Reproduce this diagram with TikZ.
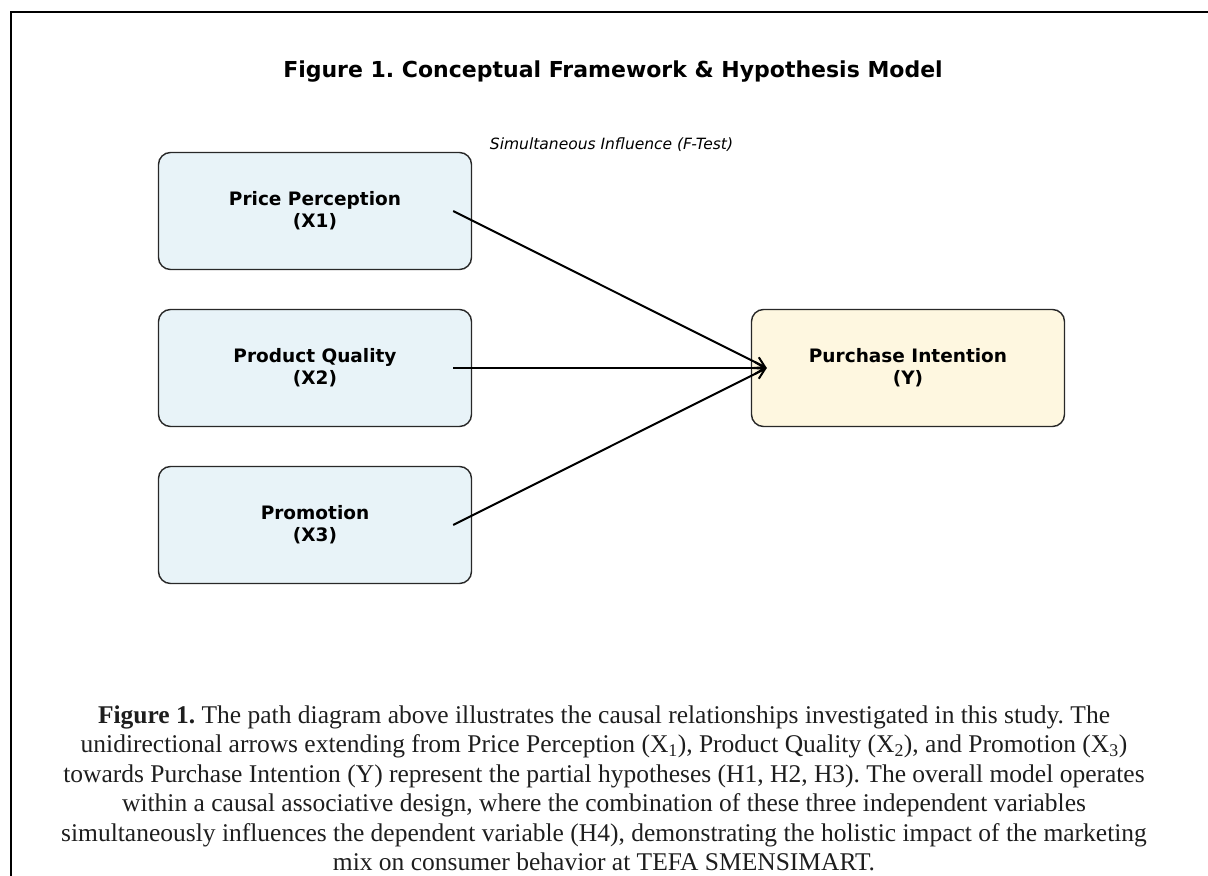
\documentclass[tikz,border=0pt]{standalone}
\usepackage{fontspec}
\setmainfont{Liberation Serif}
\newfontfamily\dejavu{DejaVu Sans}
\usetikzlibrary{arrows.meta}
\definecolor{indblue}{RGB}{232,243,248}
\definecolor{depyellow}{RGB}{254,247,224}
\definecolor{edgegray}{RGB}{40,40,40}
\definecolor{captext}{RGB}{30,30,30}
\tikzset{
  varbox/.style={draw=edgegray, line width=1.4bp, rounded corners=12bp,
    minimum width=313bp, minimum height=117bp, align=center, inner sep=0pt,
    font=\dejavu\bfseries\fontsize{18.5bp}{22bp}\selectfont},
  indep/.style={varbox, fill=indblue},
  dep/.style={varbox, fill=depyellow},
  path arrow/.style={draw=black, line width=2bp, -{Straight Barb[length=10bp,width=12bp,line width=2bp]}},
  capline/.style={anchor=base, inner sep=0pt, text=captext,
    font=\fontsize{25.5bp}{29.4bp}\selectfont}
}
\frenchspacing
\begin{document}
\begin{tikzpicture}[x=1bp,y=-1bp]
\useasboundingbox (0,0) rectangle (1208,876);
% frame
\draw[line width=2.5bp] (11,876) -- (11,12) -- (1208,12);
% title
\node[anchor=base, inner sep=0pt, font=\dejavu\bfseries\fontsize{22bp}{26bp}\selectfont] (title) at (613,77) {Figure 1. Conceptual Framework \& Hypothesis Model};
\node[anchor=base, inner sep=0pt, font=\dejavu\itshape\fontsize{15.5bp}{18bp}\selectfont] (sim) at (611.5,149) {Simultaneous Influence (F-Test)};
% boxes
\node[indep] (x1) at (315,211) {Price Perception\\(X1)};
\node[indep] (x2) at (315,368) {Product Quality\\(X2)};
\node[indep] (x3) at (315,525) {Promotion\\(X3)};
\node[dep] (y) at (908,368) {Purchase Intention\\(Y)};
% arrows
\draw[path arrow] ([xshift=-19bp]x1.east) -- ([xshift=16bp]y.west);
\draw[path arrow] ([xshift=-19bp]x2.east) -- ([xshift=16bp]y.west);
\draw[path arrow] ([xshift=-19bp]x3.east) -- ([xshift=16bp]y.west);
% caption
\node[capline] (c1) at (604,723) {\textbf{Figure 1.} The path diagram above illustrates the causal relationships investigated in this study. The};
\node[capline] (c2) at (604,752.5) {unidirectional arrows extending from Price Perception (X\textsubscript{1}), Product Quality (X\textsubscript{2}), and Promotion (X\textsubscript{3})};
\node[capline] (c3) at (604,782) {towards Purchase Intention (Y) represent the partial hypotheses (H1, H2, H3). The overall model operates};
\node[capline] (c4) at (604,811.5) {within a causal associative design, where the combination of these three independent variables};
\node[capline] (c5) at (604,841) {simultaneously influences the dependent variable (H4), demonstrating the holistic impact of the marketing};
\node[capline] (c6) at (604,870) {mix on consumer behavior at TEFA SMENSIMART.};
\end{tikzpicture}
\end{document}
